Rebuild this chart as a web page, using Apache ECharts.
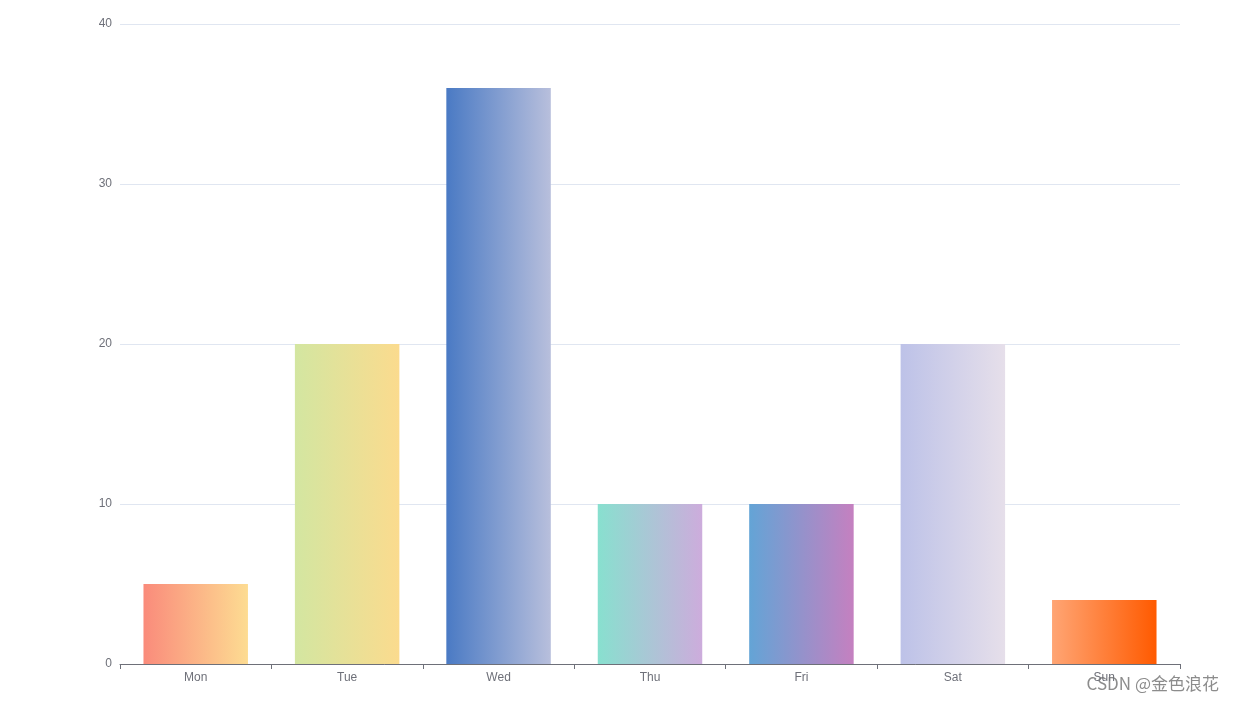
<!DOCTYPE html>
<html>
<head>
<meta charset="utf-8">
<script src="https://cdn.jsdelivr.net/npm/echarts@6/dist/echarts.min.js"></script>
<style>html,body{margin:0;padding:0;background:#fff;}#main{width:1234px;height:705px;}</style>
</head>
<body>
<div id="main"></div>
<script>
const categories = ['Mon', 'Tue', 'Wed', 'Thu', 'Fri', 'Sat', 'Sun'];
const values = [5, 20, 36, 10, 10, 20, 4];
const gradientStops = [
  ['#fa8b7b', '#fddc92'],
  ['#d3e6a1', '#fbdb8e'],
  ['#4a7ac4', '#b8bfdc'],
  ['#88e0cf', '#cdacdc'],
  ['#63a4d6', '#c580c0'],
  ['#bdc2e8', '#e6dfea'],
  ['#ffa574', '#ff5a00']
];

const chart = echarts.init(document.getElementById('main'));
chart.setOption({
  animation: false,
  grid: { left: 120, right: 54, top: 24, bottom: 41, containLabel: false },
  xAxis: {
    type: 'category',
    data: categories,
    axisLine: { lineStyle: { color: '#6e7079' } },
    axisTick: { show: true },
    axisLabel: { color: '#6e7079', fontSize: 12 }
  },
  yAxis: {
    type: 'value',
    min: 0, max: 40, interval: 10,
    axisLabel: { color: '#6e7079', fontSize: 12 },
    splitLine: { lineStyle: { color: '#e0e6f1' } }
  },
  series: [{
    type: 'bar',
    barWidth: '69%',
    data: values.map((v, i) => ({
      value: v,
      itemStyle: {
        color: new echarts.graphic.LinearGradient(0, 0, 1, 0, [
          { offset: 0, color: gradientStops[i][0] },
          { offset: 1, color: gradientStops[i][1] }
        ])
      }
    }))
  }],
  graphic: [{
    type: 'text',
    right: 15,
    top: 675,
    style: { text: 'CSDN @金色浪花', fill: 'rgba(120,120,120,0.85)', fontSize: 17, fontFamily: 'Noto Sans CJK SC, sans-serif' }
  }]
});
</script>
</body>
</html>
